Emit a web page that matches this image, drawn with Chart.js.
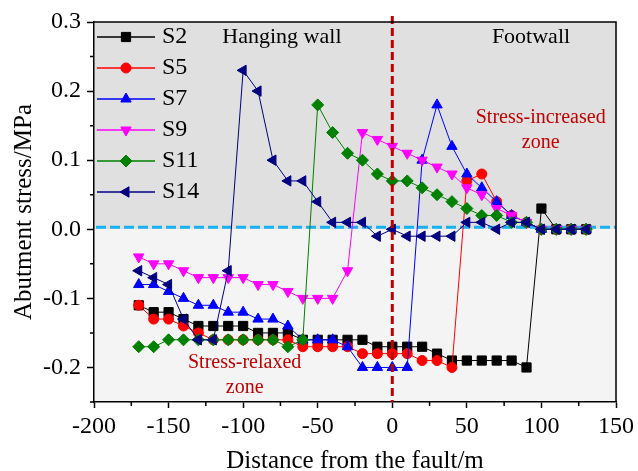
<!DOCTYPE html>
<html>
<head>
<meta charset="utf-8">
<script src="https://cdn.jsdelivr.net/npm/chart.js@4.4.1/dist/chart.umd.min.js"></script>
<style>
  html, body { margin: 0; padding: 0; background: #ffffff; }
</style>
</head>
<body>
<canvas id="myChart" width="638" height="471"></canvas>
<script>
// distance from the fault (m)
const distances = [-170, -160, -150, -140, -130, -120, -110, -100, -90, -80, -70, -60, -50, -40, -30, -20, -10, 0, 10, 20, 30, 40, 50, 60, 70, 80, 90, 100, 110, 120, 130];

const seriesNames = ["S2", "S5", "S7", "S9", "S11", "S14"];

// abutment stress (MPa)
const s2 = [-0.11, -0.12, -0.12, -0.13, -0.14, -0.14, -0.14, -0.14, -0.15, -0.15, -0.15, -0.16, -0.16, -0.16, -0.16, -0.16, -0.17, -0.17, -0.17, -0.17, -0.18, -0.19, -0.19, -0.19, -0.19, -0.19, -0.2, 0.03, 0, 0, 0];
const s5 = [-0.11, -0.13, -0.13, -0.14, -0.15, -0.16, -0.16, -0.16, -0.16, -0.16, -0.16, -0.17, -0.17, -0.17, -0.17, -0.18, -0.18, -0.18, -0.18, -0.19, -0.19, -0.2, 0.07, 0.08, 0.04, 0.02, 0.01, 0, 0, 0, 0];
const s7 = [-0.08, -0.08, -0.09, -0.10, -0.11, -0.11, -0.12, -0.12, -0.13, -0.13, -0.14, -0.16, -0.16, -0.16, -0.17, -0.2, -0.2, -0.2, -0.2, 0.10, 0.18, 0.12, 0.08, 0.06, 0.04, 0.02, 0.01, 0, 0, 0, 0];
const s9 = [-0.04, -0.05, -0.05, -0.06, -0.07, -0.07, -0.07, -0.07, -0.08, -0.08, -0.09, -0.10, -0.10, -0.10, -0.06, 0.14, 0.13, 0.12, 0.11, 0.10, 0.09, 0.08, 0.06, 0.05, 0.03, 0.02, 0.01, 0, 0, 0, 0];
const s11 = [-0.17, -0.17, -0.16, -0.16, -0.16, -0.16, -0.16, -0.16, -0.16, -0.16, -0.17, -0.16, 0.18, 0.14, 0.11, 0.10, 0.08, 0.07, 0.07, 0.06, 0.05, 0.04, 0.03, 0.02, 0.02, 0.01, 0.01, 0, 0, 0, 0];
const s14 = [-0.06, -0.07, -0.08, -0.13, -0.16, -0.16, -0.06, 0.23, 0.20, 0.10, 0.07, 0.07, 0.04, 0.01, 0.01, 0.01, -0.01, 0, -0.01, -0.01, -0.01, -0.01, 0.01, 0.01, 0, 0.01, 0.01, 0, 0, 0, 0];

const xTicks = [-200, -150, -100, -50, 0, 50, 100, 150];
const xMinorTicks = [-175, -125, -75, -25, 25, 75, 125];
const yTicks = [-0.2, -0.1, 0.0, 0.1, 0.2, 0.3];
const yMinorTicks = [-0.25, -0.15, -0.05, 0.05, 0.15, 0.25];

const allSeries = [s2, s5, s7, s9, s11, s14];

const seriesStyles = [
    { color: "#000000", pointStyle: "rect", radius: 6.5, rotation: 0 },
    { color: "#ff0000", pointStyle: "circle", radius: 5, rotation: 0 },
    { color: "#0000ff", pointStyle: "triangle", radius: 6, rotation: 0 },
    { color: "#ff00ff", pointStyle: "triangle", radius: 6, rotation: 180 },
    { color: "#008000", pointStyle: "rectRot", radius: 6, rotation: 0 },
    { color: "#000080", pointStyle: "triangle", radius: 6, rotation: -90 }
];

const serif = "'Liberation Serif', 'Times New Roman', serif";

// text notes placed in data coordinates
const notes = [
    { text: "Hanging wall", x: -74, y: 0.278, color: "#000000", size: 22 },
    { text: "Footwall", x: 93, y: 0.278, color: "#000000", size: 22 },
    { text: "Stress-increased", x: 99.5, y: 0.161, color: "#c00000", size: 20 },
    { text: "zone", x: 99.5, y: 0.125, color: "#c00000", size: 20 },
    { text: "Stress-relaxed", x: -99, y: -0.193, color: "#c00000", size: 20 },
    { text: "zone", x: -99, y: -0.229, color: "#c00000", size: 20 }
];

const datasets = allSeries.map((values, i) => ({
    label: seriesNames[i],
    data: distances.map((d, j) => ({ x: d, y: values[j] })),
    borderColor: seriesStyles[i].color,
    backgroundColor: seriesStyles[i].color,
    borderWidth: 1,
    pointStyle: seriesStyles[i].pointStyle,
    pointRadius: seriesStyles[i].radius,
    pointRotation: seriesStyles[i].rotation,
    pointBorderWidth: 1,
    pointBackgroundColor: seriesStyles[i].color,
    pointBorderColor: seriesStyles[i].color,
    tension: 0,
    order: allSeries.length - i
}));

const backgroundPlugin = {
    id: "zones",
    beforeDraw(chart) {
        const { ctx, chartArea } = chart;
        const y0 = chart.scales.y.getPixelForValue(0);
        ctx.save();
        ctx.fillStyle = "#e0e0e0";
        ctx.fillRect(chartArea.left, chartArea.top, chartArea.right - chartArea.left, y0 - chartArea.top);
        ctx.fillStyle = "#f4f4f4";
        ctx.fillRect(chartArea.left, y0, chartArea.right - chartArea.left, chartArea.bottom - y0);
        ctx.restore();
    },
    beforeDatasetsDraw(chart) {
        const { ctx, chartArea } = chart;
        const yc = chart.scales.y.getPixelForValue(0.003);
        ctx.save();
        ctx.strokeStyle = "#18b0ef";
        ctx.lineWidth = 3;
        ctx.setLineDash([10, 4]);
        ctx.beginPath();
        ctx.moveTo(chartArea.left + 2, yc);
        ctx.lineTo(chartArea.right, yc);
        ctx.stroke();
        ctx.restore();
    },
    afterDatasetsDraw(chart) {
        const { ctx, chartArea } = chart;
        const xs = chart.scales.x;
        const ys = chart.scales.y;

        // fault line
        const xf = xs.getPixelForValue(0);
        ctx.save();
        ctx.strokeStyle = "#c00000";
        ctx.lineWidth = 3;
        ctx.setLineDash([8, 4]);
        ctx.beginPath();
        ctx.moveTo(xf, chartArea.top - 6);
        ctx.lineTo(xf, chartArea.bottom);
        ctx.stroke();
        ctx.restore();

        // notes
        ctx.save();
        ctx.textAlign = "center";
        ctx.textBaseline = "middle";
        notes.forEach(n => {
            ctx.font = n.size + "px " + serif;
            ctx.fillStyle = n.color;
            ctx.fillText(n.text, xs.getPixelForValue(n.x), ys.getPixelForValue(n.y));
        });
        ctx.restore();
    },
    afterDraw(chart) {
        const { ctx, chartArea } = chart;
        const xs = chart.scales.x;
        const ys = chart.scales.y;

        ctx.save();
        ctx.strokeStyle = "#000000";
        ctx.lineWidth = 1.5;
        // top and right frame
        ctx.beginPath();
        ctx.moveTo(chartArea.left, chartArea.top);
        ctx.lineTo(chartArea.right, chartArea.top);
        ctx.lineTo(chartArea.right, chartArea.bottom);
        ctx.stroke();
        // minor ticks
        ctx.beginPath();
        xMinorTicks.forEach(v => {
            const px = xs.getPixelForValue(v);
            ctx.moveTo(px, chartArea.bottom);
            ctx.lineTo(px, chartArea.bottom + 4);
        });
        yMinorTicks.forEach(v => {
            const py = ys.getPixelForValue(v);
            ctx.moveTo(chartArea.left, py);
            ctx.lineTo(chartArea.left - 4, py);
        });
        ctx.stroke();
        ctx.restore();

        // legend
        ctx.save();
        const lx = chartArea.left;
        chart.data.datasets.forEach((ds, i) => {
            const ry = chartArea.top + 15 + 31 * i;
            ctx.strokeStyle = ds.borderColor;
            ctx.fillStyle = ds.backgroundColor;
            ctx.lineWidth = 1.5;
            ctx.beginPath();
            ctx.moveTo(lx + 3, ry);
            ctx.lineTo(lx + 61, ry);
            ctx.stroke();
            ctx.lineWidth = 1;
            Chart.helpers.drawPoint(ctx, {
                pointStyle: ds.pointStyle,
                rotation: ds.pointRotation,
                radius: ds.pointRadius,
                borderWidth: 1
            }, lx + 32, ry);
            ctx.fillStyle = "#000000";
            ctx.font = "24px " + serif;
            ctx.textAlign = "left";
            ctx.textBaseline = "middle";
            ctx.fillText(ds.label, lx + 68, ry);
        });
        ctx.restore();
    }
};

const ctx = document.getElementById("myChart").getContext("2d");

const chartInstance = new Chart(ctx, {
    type: "line",
    data: { datasets: datasets },
    options: {
        responsive: false,
        animation: false,
        layout: { padding: { top: 22, right: 19, bottom: 0, left: 0 } },
        plugins: {
            legend: { display: false },
            tooltip: { enabled: false }
        },
        scales: {
            x: {
                type: "linear",
                min: -200,
                max: 150,
                afterBuildTicks: scale => { scale.ticks = xTicks.map(v => ({ value: v })); },
                afterTickToLabelConversion: scale => {
                    scale.ticks.forEach(t => { t.label = String(t.value); });
                },
                afterFit: scale => { scale.height = 69; },
                grid: { drawOnChartArea: false, drawTicks: true, tickLength: 6, tickColor: "#000000", tickWidth: 1.5 },
                border: { display: true, color: "#000000", width: 1.5 },
                ticks: {
                    color: "#000000",
                    padding: 4,
                    maxRotation: 0,
                    font: { family: serif, size: 24 }
                },
                title: {
                    display: true,
                    text: "Distance from the fault/m",
                    color: "#000000",
                    padding: { top: 0, bottom: -3 },
                    font: { family: serif, size: 25, lineHeight: 1 }
                }
            },
            y: {
                type: "linear",
                min: -0.25,
                max: 0.3,
                afterBuildTicks: scale => { scale.ticks = yTicks.map(v => ({ value: v })); },
                afterTickToLabelConversion: scale => {
                    scale.ticks.forEach(t => { t.label = t.value.toFixed(1); });
                },
                afterFit: scale => { scale.width = 94; },
                grid: { drawOnChartArea: false, drawTicks: true, tickLength: 7, tickColor: "#000000", tickWidth: 1.5 },
                border: { display: true, color: "#000000", width: 1.5 },
                ticks: {
                    color: "#000000",
                    padding: 6,
                    font: { family: serif, size: 24 }
                },
                title: {
                    display: true,
                    text: "Abutment stress/MPa",
                    color: "#000000",
                    padding: { top: 12, bottom: 0 },
                    font: { family: serif, size: 25, lineHeight: 1 }
                }
            }
        }
    },
    plugins: [backgroundPlugin]
});
</script>
</body>
</html>
